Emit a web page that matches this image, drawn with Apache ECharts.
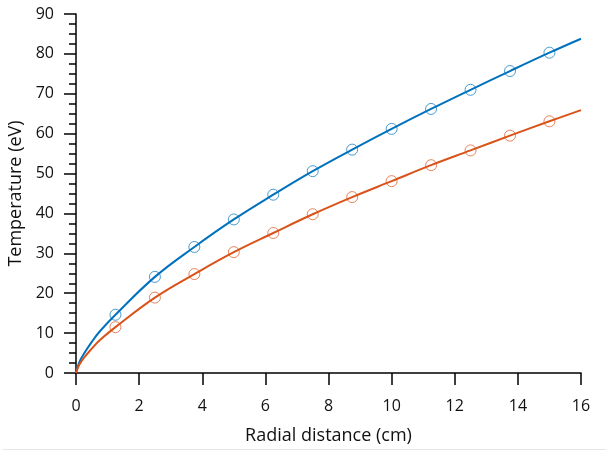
<!DOCTYPE html>
<html>
<head>
<meta charset="utf-8">
<script src="https://cdn.jsdelivr.net/npm/echarts@6/dist/echarts.min.js"></script>
<style>html,body{margin:0;padding:0;background:#fff;}#c{width:606px;height:451px;}</style>
</head>
<body>
<div id="c"></div>
<script>
// Fitted curve samples
var curveX = [0, 0.1, 0.25, 0.5, 0.75, 1.25, 2.5, 3.75, 5, 6.25, 7.5, 8.75, 10, 11.25, 12.5, 13.75, 15, 16];
var curveBlue = [0, 2.6, 4.8, 7.8, 10.4, 14.6, 24.1, 31.6, 38.5, 44.7, 50.6, 56.0, 61.2, 66.2, 71.0, 75.7, 80.3, 83.8];
var curveOrange = [0, 2.0, 3.8, 6.1, 8.2, 11.5, 18.9, 24.8, 30.3, 35.1, 39.8, 44.1, 48.1, 52.1, 55.8, 59.5, 63.1, 65.9];
// Measured samples (circles)
var sampleX = [1.25, 2.5, 3.75, 5, 6.25, 7.5, 8.75, 10, 11.25, 12.5, 13.75, 15];
var sampleBlue = [14.6, 24.1, 31.6, 38.5, 44.7, 50.6, 56.0, 61.2, 66.2, 71.0, 75.7, 80.3];
var sampleOrange = [11.5, 18.9, 24.8, 30.3, 35.1, 39.8, 44.1, 48.1, 52.1, 55.8, 59.5, 63.1];
var xTicks = {min: 0, max: 16, interval: 2};
var yTicks = {min: 0, max: 90, interval: 10};
var xName = 'Radial distance (cm)';
var yName = 'Temperature (eV)';

function pairs(xs, ys) { return xs.map(function (x, i) { return [x, ys[i]]; }); }

var BLUE = '#0072BD', ORANGE = '#D95319';
var FONT = 'Open Sans';
var chart = echarts.init(document.getElementById('c'), null, {renderer: 'canvas'});
chart.setOption({
  animation: false,
  backgroundColor: '#fff',
  grid: {left: 76, right: 25, top: 14, bottom: 78, containLabel: false, outerBoundsMode: 'none'},
  graphic: [{
    type: 'line', left: 0, top: 447, z: -1,
    shape: {x1: 0, y1: 0, x2: 606, y2: 0},
    style: {stroke: '#e6e6e6', lineWidth: 1}
  }],
  xAxis: {
    type: 'value', min: xTicks.min, max: xTicks.max, interval: xTicks.interval,
    name: xName, nameLocation: 'middle', nameGap: 54,
    nameTextStyle: {fontFamily: FONT, fontSize: 18, color: '#111'},
    axisLine: {onZero: false, lineStyle: {color: '#000', width: 1.5}},
    axisTick: {show: true, length: 12, inside: false, lineStyle: {color: '#000', width: 1.5}},
    minorTick: {show: false},
    axisLabel: {fontFamily: FONT, fontSize: 16, color: '#111', margin: 25},
    splitLine: {show: false}
  },
  yAxis: {
    type: 'value', min: yTicks.min, max: yTicks.max, interval: yTicks.interval,
    name: yName, nameLocation: 'middle', nameGap: 49, nameRotate: 90,
    nameTextStyle: {fontFamily: FONT, fontSize: 18, color: '#111'},
    axisLine: {show: true, onZero: false, lineStyle: {color: '#000', width: 1.5}},
    axisTick: {show: true, length: 12, lineStyle: {color: '#000', width: 1.5}},
    minorTick: {show: true, splitNumber: 4, length: 7, lineStyle: {color: '#000', width: 1.5}},
    axisLabel: {fontFamily: FONT, fontSize: 16, color: '#111', margin: 22},
    splitLine: {show: false},
    minorSplitLine: {show: false}
  },
  series: [
    {type: 'line', data: pairs(curveX, curveBlue), smooth: 0.4, showSymbol: false,
     lineStyle: {color: BLUE, width: 2}, z: 2},
    {type: 'line', data: pairs(curveX, curveOrange), smooth: 0.4, showSymbol: false,
     lineStyle: {color: ORANGE, width: 2}, z: 2},
    {type: 'scatter', data: pairs(sampleX, sampleBlue), symbol: 'circle', symbolSize: 11,
     itemStyle: {color: 'rgba(0,0,0,0)', borderColor: BLUE, borderWidth: 1, opacity: 0.7}, z: 3},
    {type: 'scatter', data: pairs(sampleX, sampleOrange), symbol: 'circle', symbolSize: 11,
     itemStyle: {color: 'rgba(0,0,0,0)', borderColor: ORANGE, borderWidth: 1, opacity: 0.7}, z: 3}
  ]
});
</script>
</body>
</html>
